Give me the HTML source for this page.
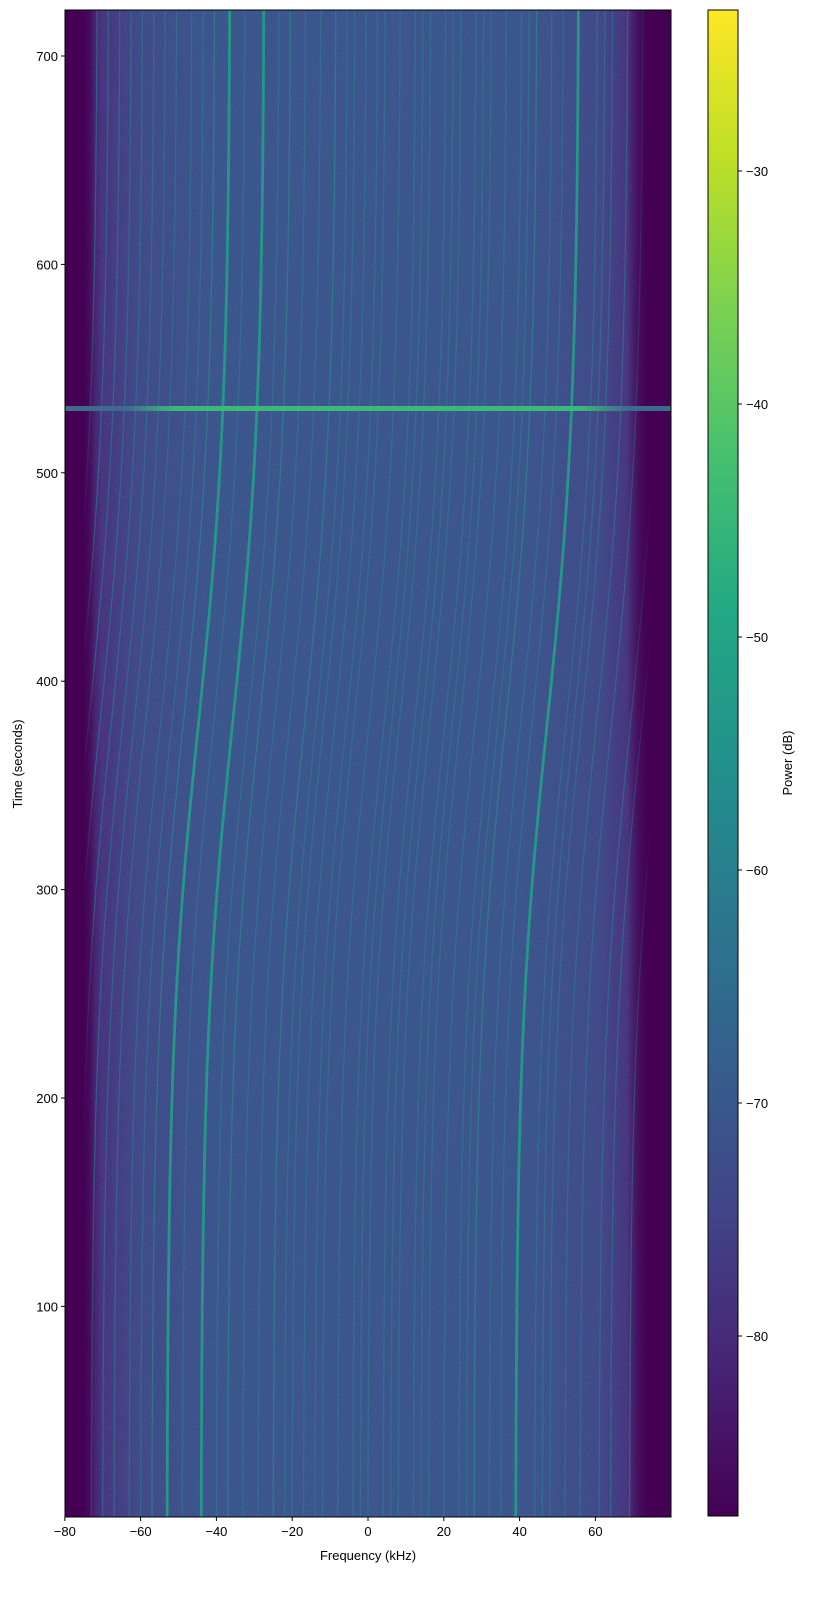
<!DOCTYPE html>
<html><head><style>body{margin:0;background:#fff}svg{display:block;font-family:"Liberation Sans",sans-serif}</style></head>
<body>
<svg width="823" height="1603" viewBox="0 0 823 1603" xmlns="http://www.w3.org/2000/svg">
<defs>
<linearGradient id="bg" x1="0" x2="1" y1="0" y2="0">
<stop offset="0" stop-color="#440154"/>
<stop offset="0.035" stop-color="#450a5e"/>
<stop offset="0.06" stop-color="#46327e"/>
<stop offset="0.12" stop-color="#3f4888"/>
<stop offset="0.25" stop-color="#3a548c"/>
<stop offset="0.75" stop-color="#3a548c"/>
<stop offset="0.88" stop-color="#3f4888"/>
<stop offset="0.93" stop-color="#46327e"/>
<stop offset="0.96" stop-color="#440154"/>
<stop offset="1" stop-color="#440154"/>
</linearGradient>
<linearGradient id="ledge" x1="0" x2="1"><stop offset="0" stop-color="#440154"/><stop offset="0.6" stop-color="#440154"/><stop offset="1" stop-color="#440154" stop-opacity="0"/></linearGradient>
<linearGradient id="redge" x1="1" x2="0"><stop offset="0" stop-color="#440154"/><stop offset="0.45" stop-color="#440154"/><stop offset="1" stop-color="#440154" stop-opacity="0"/></linearGradient>
<linearGradient id="hl" x1="0" x2="1"><stop offset="0" stop-color="#3e6a8d"/><stop offset="0.1" stop-color="#3e6a8d"/><stop offset="0.18" stop-color="#3cb878"/><stop offset="0.85" stop-color="#3cb878"/><stop offset="0.93" stop-color="#3e6a8d"/><stop offset="1" stop-color="#3e6a8d"/></linearGradient>
<linearGradient id="cb" x1="0" x2="0" y1="1" y2="0">
<stop offset="0" stop-color="#440154"/><stop offset="0.1" stop-color="#482475"/><stop offset="0.2" stop-color="#414487"/><stop offset="0.3" stop-color="#355f8d"/><stop offset="0.4" stop-color="#2a788e"/><stop offset="0.5" stop-color="#21918c"/><stop offset="0.6" stop-color="#22a884"/><stop offset="0.7" stop-color="#44bf70"/><stop offset="0.8" stop-color="#7ad151"/><stop offset="0.9" stop-color="#bddf26"/><stop offset="1" stop-color="#fde725"/>
</linearGradient>
<filter id="noise" x="0" y="0" width="1" height="1"><feTurbulence type="fractalNoise" baseFrequency="0.9" numOctaves="1" seed="3"/><feColorMatrix values="0 0 0 0 0.25  0 0 0 0 0.45  0 0 0 0 0.55  0 0 0 1.2 -0.55"/></filter>
<clipPath id="pc"><rect x="65" y="10" width="606" height="1507"/></clipPath>
</defs>
<g clip-path="url(#pc)">
<rect x="65" y="10" width="606" height="1507" fill="url(#bg)"/>
<rect x="65" y="10" width="606" height="1507" filter="url(#noise)" opacity="0.35"/>
<g id="lines" fill="none"></g>
<rect x="65" y="10" width="30" height="1507" fill="url(#ledge)"/>
<rect x="627" y="10" width="44" height="1507" fill="url(#redge)"/>
<rect x="65" y="406" width="606" height="5" fill="url(#hl)"/>
</g>
<rect x="65" y="10" width="606" height="1507" fill="none" stroke="#000" stroke-width="1"/>
<g font-size="13" fill="#000" text-anchor="middle" id="xt"></g>
<g font-size="13" fill="#000" text-anchor="end" id="yt"></g>
<text x="368" y="1560" font-size="13" text-anchor="middle">Frequency (kHz)</text>
<text transform="translate(22,764) rotate(-90)" font-size="13" text-anchor="middle">Time (seconds)</text>
<rect x="708" y="10" width="30" height="1506" fill="url(#cb)" stroke="#000" stroke-width="1"/>
<g font-size="13" id="ct"></g>
<text transform="translate(792,763) rotate(-90)" font-size="13" text-anchor="middle">Power (dB)</text>
</svg>
<script>
const ns="http://www.w3.org/2000/svg";
function el(p,t,a,txt){const e=document.createElementNS(ns,t);for(const k in a)e.setAttribute(k,a[k]);if(txt!==undefined)e.textContent=txt;document.getElementById(p).appendChild(e);}
const X=k=>368+k*3.79;
const Y=t=>56+(700-t)*2.084;
const s0=1/(1+Math.exp(380/75)), s1=1/(1+Math.exp(-(722-380)/75));
const sh=t=>16.5*((1/(1+Math.exp(-(t-380)/75)))-s0)/(s1-s0);
const L=[[-96,1],[-92,1],[-88,1],[-85,1],[-82,1],[-79,1],[-76,1],[-73,1],[-70,1],[-67,1],[-63,1],[-60,1],[-57,1.4],[-53,2.2],[-49,1.3],[-44,2.6],[-40,1],[-37,1.4],[-33,1],[-29,1.3],[-25,1.6],[-22,1],[-20,1.2],[-17,1.2],[-14,1],[-12,1],[-8,1.1],[-4,1],[-2,1],[0,1.1],[4,1.2],[6,1],[8,1],[12,1.3],[14,1],[16,1],[20,1.1],[24,1.2],[26,1],[28,1.5],[32,1.1],[35,1.2],[39,2.8],[44,1.3],[46,1],[48,1.2],[52,1.3],[56,1.1],[61,1.2],[64,1.1],[69,1.6]];
for(const [k,b] of L){let d="";for(let t=-2;t<=724;t+=6){d+=(d?"L":"M")+X(k+sh(t)).toFixed(1)+","+Y(t).toFixed(1);}
const c=b>2?"#22a085":b>1.35?"#25918b":"#2b7d8e";
el("lines","path",{d:d,stroke:c,"stroke-width":b>2?2.8:1.3,opacity:b>2?0.9:0.6});}
[-80,-60,-40,-20,0,20,40,60].forEach(v=>{const x=X(v);el("xt","line",{x1:x,x2:x,y1:1517,y2:1521,stroke:"#000"});el("xt","text",{x:x,y:1536},(v<0?"\u2212":"")+Math.abs(v));});
[100,200,300,400,500,600,700].forEach(v=>{const y=Y(v);el("yt","line",{x1:61,x2:65,y1:y,y2:y,stroke:"#000"});el("yt","text",{x:58,y:y+5},v);});
[-30,-40,-50,-60,-70,-80].forEach((v,i)=>{const y=171+i*233;el("ct","line",{x1:738,x2:742,y1:y,y2:y,stroke:"#000"});el("ct","text",{x:746,y:y+5},"\u2212"+Math.abs(v));});
</script>
</body></html>
